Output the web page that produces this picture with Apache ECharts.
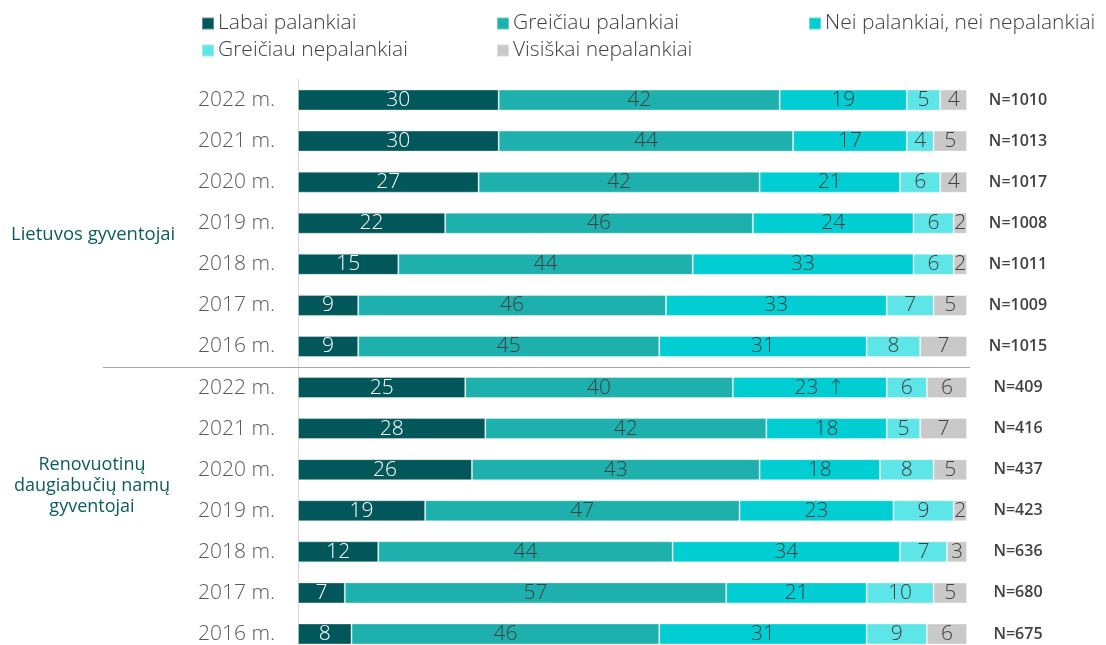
<!DOCTYPE html>
<html>
<head>
<meta charset="utf-8">
<script src="https://cdn.jsdelivr.net/npm/echarts@6/dist/echarts.min.js"></script>
<style>
html,body{margin:0;padding:0;background:#fff;}
#main{width:1106px;height:645px;}
</style>
</head>
<body>
<div id="main"></div>
<script>
// ---------- DATA ----------
const yearLabels = ['2022 m.','2021 m.','2020 m.','2019 m.','2018 m.','2017 m.','2016 m.',
                    '2022 m.','2021 m.','2020 m.','2019 m.','2018 m.','2017 m.','2016 m.'];
const nLabels = ['N=1010','N=1013','N=1017','N=1008','N=1011','N=1009','N=1015',
                 'N=409','N=416','N=437','N=423','N=636','N=680','N=675'];
const groupLabels = ['Lietuvos gyventojai', 'Renovuotinų\ndaugiabučių namų\ngyventojai'];
const seriesNames = ['Labai palankiai','Greičiau palankiai','Nei palankiai, nei nepalankiai','Greičiau nepalankiai','Visiškai nepalankiai'];
const labaiPalankiai      = [30,30,27,22,15,9,9, 25,28,26,19,12,7,8];
const greiciauPalankiai   = [42,44,42,46,44,46,45, 40,42,43,47,44,57,46];
const neiPalankiai        = [19,17,21,24,33,33,31, 23,18,18,23,34,21,31];
const greiciauNepalankiai = [5,4,6,6,6,7,8, 6,5,8,9,7,10,9];
const visiskaiNepalankiai = [4,5,4,2,2,5,7, 6,7,5,2,3,5,6];
// significant-change marker (↑) per row for the "Nei palankiai" series
const neiArrow = [0,0,0,0,0,0,0, 1,0,0,0,0,0,0];

// ---------- BUILD ----------
const cats = yearLabels.map((y,i)=>'c'+i);
const values = [labaiPalankiai, greiciauPalankiai, neiPalankiai, greiciauNepalankiai, visiskaiNepalankiai];
const colors = ['#02575A','#1DB0AC','#00CED3','#5EE5E7','#C9C9C9'];
const labelColors = ['#FFFFFF','#404040','#404040','#404040','#404040'];
const FONT = '"Open Sans", "DejaVu Sans", sans-serif';

const chart = echarts.init(document.getElementById('main'), null, {renderer:'canvas'});

const series = values.map((arr, si) => ({
  name: seriesNames[si],
  type: 'bar',
  stack: 'total',
  barWidth: 21,
  data: arr,
  itemStyle: {color: colors[si], borderColor: 'rgba(255,255,255,0.35)', borderWidth: 1},
  emphasis: {disabled: true},
  label: {
    show: true,
    position: 'inside',
    color: labelColors[si],
    fontFamily: FONT,
    fontWeight: 300,
    fontSize: 21,
    formatter: si === 2
      ? (p => neiArrow[p.dataIndex] ? '{pad|}' + p.value + '{arr|↑}' : String(p.value))
      : '{c}',
    rich: {
      pad: {width: 20},
      arr: {color: '#0B5D5A', fontSize: 21, fontFamily: FONT, padding: [0,0,0,9]}
    }
  }
}));

const legendPos = [[201,13],[496,13],[808,13],[201,40],[496,40]];
const legends = seriesNames.map((n,i)=>({
  data: [n],
  left: legendPos[i][0],
  top: legendPos[i][1],
  padding: 0,
  icon: 'rect',
  itemWidth: 12,
  itemHeight: 12,
  itemGap: 0,
  selectedMode: false,
  textStyle: {fontFamily: FONT, fontWeight: 300, fontSize: 21, color: '#404040', padding: [0,0,0,-1]}
}));

const option = {
  animation: false,
  backgroundColor: '#ffffff',
  legend: legends,
  grid: {left: 298, width: 669, top: 79.5, height: 575, containLabel: false, outerBoundsMode: 'none'},
  xAxis: {type: 'value', min: 0, max: 100, show: false},
  yAxis: [
    {
      type: 'category', data: cats, inverse: true,
      axisLine: {show: true, lineStyle: {color: '#D9D9D9', width: 1}},
      axisTick: {show: false},
      axisLabel: {
        formatter: (v, i) => yearLabels[i],
        fontFamily: FONT, fontWeight: 300, fontSize: 21, color: '#595959', margin: 23
      }
    },
    {
      type: 'category', data: cats, inverse: true, position: 'right',
      axisLine: {show: false}, axisTick: {show: false},
      axisLabel: {
        formatter: (v, i) => nLabels[i],
        fontFamily: FONT, fontWeight: 600, fontSize: 16, color: '#404040',
        margin: 51, align: 'center'
      }
    }
  ],
  series: series
};
chart.setOption(option);

// group labels and separator placed relative to the category axis
const yOf = i => chart.convertToPixel({yAxisIndex: 0}, cats[i]);
const sepY = Math.round((yOf(6) + yOf(7)) / 2) + 0.5;
chart.setOption({
  graphic: [
    {type: 'line', shape: {x1: 103, y1: sepY, x2: 970, y2: sepY}, style: {stroke: '#A6A6A6', lineWidth: 1}, z: 10},
    {type: 'text', x: 11, y: (yOf(3) + yOf(4)) / 2 - 9,
     style: {text: groupLabels[0], font: '18.5px ' + FONT, fill: '#0B5D5A', verticalAlign: 'middle'}},
    {type: 'text', x: 92, y: (yOf(9) + yOf(10)) / 2 - 4,
     style: {text: groupLabels[1], font: '18px ' + FONT, fill: '#0B5D5A', align: 'center', verticalAlign: 'middle', lineHeight: 21}}
  ]
});
</script>
</body>
</html>
